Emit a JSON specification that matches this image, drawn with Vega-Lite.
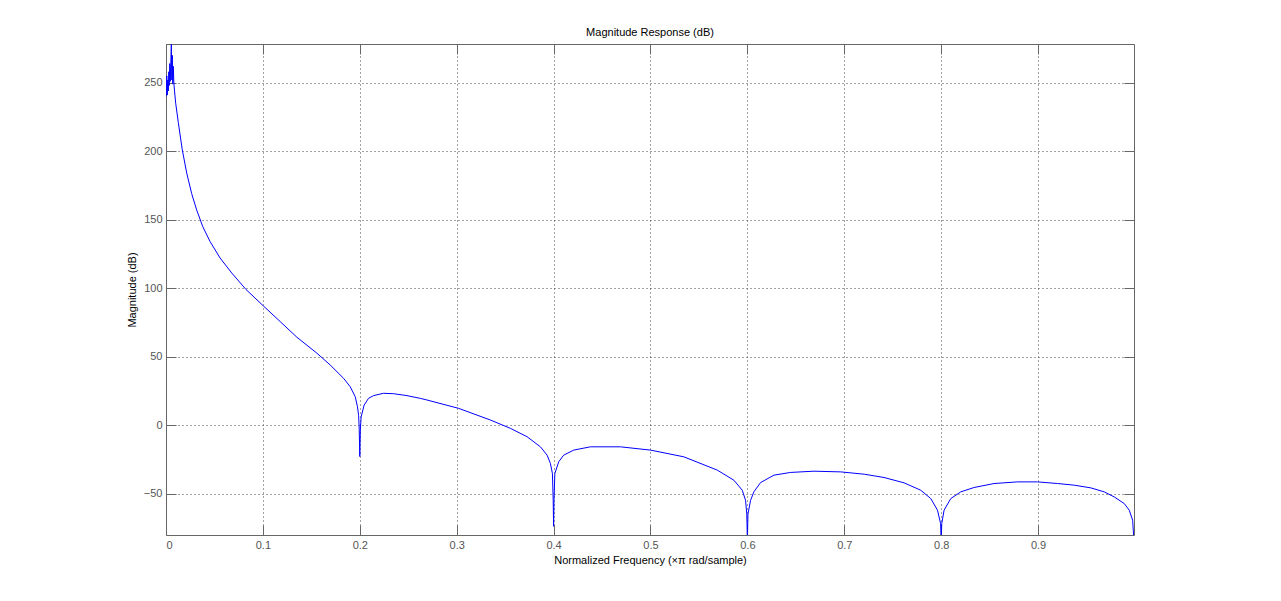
{
  "$schema": "https://vega.github.io/schema/vega-lite/v6.json",
  "width": 968,
  "height": 491,
  "autosize": "none",
  "padding": {"left": 166, "top": 44, "right": 147, "bottom": 66},
  "background": "white",
  "title": {"text": "Magnitude Response (dB)", "fontSize": 11, "font": "Liberation Sans", "fontWeight": "normal", "color": "#000000", "offset": 6},
  "config": {
    "view": {"stroke": null},
    "axis": {
      "labelFont": "Liberation Sans", "labelFontSize": 11, "labelColor": "#555555",
      "titleFont": "Liberation Sans", "titleFontSize": 11, "titleFontWeight": "normal", "titleColor": "#000000",
      "domainColor": "#666666", "tickColor": "#666666", "tickSize": -10, "labelPadding": 14,
      "gridColor": "#444444", "gridDash": [1, 3], "gridOpacity": 1, "gridWidth": 1
    }
  },
  "datasets": {
    "resp": [
      {"f": 0.0003, "m": 240}, {"f": 0.0008, "m": 255}, {"f": 0.0013, "m": 241}, {"f": 0.0018, "m": 252},
      {"f": 0.0024, "m": 244}, {"f": 0.0029, "m": 258}, {"f": 0.0034, "m": 248}, {"f": 0.0039, "m": 264},
      {"f": 0.0044, "m": 251}, {"f": 0.005, "m": 266}, {"f": 0.0055, "m": 278}, {"f": 0.006, "m": 252},
      {"f": 0.0065, "m": 270}, {"f": 0.007, "m": 249}, {"f": 0.0075, "m": 262}, {"f": 0.0081, "m": 250},
      {"f": 0.0088, "m": 244}, {"f": 0.010, "m": 235}, {"f": 0.0127, "m": 221}, {"f": 0.0168, "m": 201},
      {"f": 0.0214, "m": 184}, {"f": 0.0265, "m": 169}, {"f": 0.0317, "m": 157}, {"f": 0.0379, "m": 145},
      {"f": 0.0455, "m": 134}, {"f": 0.0558, "m": 122}, {"f": 0.0679, "m": 111}, {"f": 0.0826, "m": 99},
      {"f": 0.1005, "m": 87}, {"f": 0.1178, "m": 75.6}, {"f": 0.135, "m": 64.2}, {"f": 0.1557, "m": 52.5},
      {"f": 0.1694, "m": 43.9}, {"f": 0.1832, "m": 34.2}, {"f": 0.1901, "m": 28}, {"f": 0.1953, "m": 20.7},
      {"f": 0.1976, "m": 13.4}, {"f": 0.1988, "m": 7}, {"f": 0.1994, "m": -3}, {"f": 0.2, "m": -23},
      {"f": 0.2006, "m": -3}, {"f": 0.2014, "m": 6}, {"f": 0.2045, "m": 14.6}, {"f": 0.209, "m": 19.5},
      {"f": 0.2142, "m": 21.5}, {"f": 0.2245, "m": 23.2}, {"f": 0.2348, "m": 22.9}, {"f": 0.2487, "m": 21.5},
      {"f": 0.2624, "m": 19.5}, {"f": 0.2693, "m": 18.3}, {"f": 0.302, "m": 12.2}, {"f": 0.3347, "m": 3.7},
      {"f": 0.3554, "m": -2.4}, {"f": 0.3726, "m": -8.5}, {"f": 0.3864, "m": -15.9}, {"f": 0.3933, "m": -22},
      {"f": 0.3967, "m": -28}, {"f": 0.3988, "m": -35.4}, {"f": 0.3996, "m": -55}, {"f": 0.4, "m": -74},
      {"f": 0.4004, "m": -55}, {"f": 0.4013, "m": -35.4}, {"f": 0.4053, "m": -26.8}, {"f": 0.4104, "m": -22},
      {"f": 0.4208, "m": -18.3}, {"f": 0.438, "m": -15.9}, {"f": 0.469, "m": -15.9}, {"f": 0.5, "m": -18.3},
      {"f": 0.5344, "m": -23.2}, {"f": 0.5689, "m": -32.9}, {"f": 0.5861, "m": -40.3}, {"f": 0.5947, "m": -47.6},
      {"f": 0.5981, "m": -54.9}, {"f": 0.5994, "m": -65}, {"f": 0.6, "m": -85}, {"f": 0.6006, "m": -65},
      {"f": 0.6033, "m": -55}, {"f": 0.6067, "m": -48.8}, {"f": 0.6136, "m": -42}, {"f": 0.6274, "m": -36.6},
      {"f": 0.6446, "m": -34.6}, {"f": 0.6687, "m": -33.7}, {"f": 0.6963, "m": -34.2}, {"f": 0.7206, "m": -35.9},
      {"f": 0.741, "m": -38.3}, {"f": 0.7617, "m": -42.2}, {"f": 0.7789, "m": -47.6}, {"f": 0.7893, "m": -53.7},
      {"f": 0.7962, "m": -62.2}, {"f": 0.7994, "m": -72}, {"f": 0.8, "m": -85}, {"f": 0.8006, "m": -72},
      {"f": 0.803, "m": -62.2}, {"f": 0.8099, "m": -53.7}, {"f": 0.8202, "m": -48.8}, {"f": 0.834, "m": -45.6},
      {"f": 0.8546, "m": -42.7}, {"f": 0.8788, "m": -41.5}, {"f": 0.8995, "m": -41.5}, {"f": 0.9201, "m": -42.7},
      {"f": 0.9373, "m": -43.9}, {"f": 0.9545, "m": -45.9}, {"f": 0.9683, "m": -48.8}, {"f": 0.9786, "m": -52.5},
      {"f": 0.9889, "m": -57.3}, {"f": 0.9941, "m": -62.2}, {"f": 0.9976, "m": -69.5}, {"f": 0.999, "m": -85}
    ]
  },
  "data": {"name": "resp"},
  "layer": [
    {
      "mark": {"type": "line", "color": "#0000ff", "strokeWidth": 1, "clip": true, "interpolate": "linear"},
      "encoding": {
        "x": {"field": "f", "type": "quantitative", "scale": {"domain": [0, 0.999], "nice": false, "zero": false},
          "axis": {"orient": "bottom", "values": [0, 0.1, 0.2, 0.3, 0.4, 0.5, 0.6, 0.7, 0.8, 0.9], "format": ".1~f", "grid": true,
            "title": "Normalized Frequency (×π rad/sample)", "titlePadding": 4}},
        "y": {"field": "m", "type": "quantitative", "scale": {"domain": [-80.3, 278.3], "nice": false, "zero": false},
          "axis": {"orient": "left", "values": [-50, 0, 50, 100, 150, 200, 250], "grid": true,
            "title": "Magnitude (dB)", "titlePadding": 6}}
      }
    },
    {
      "mark": {"type": "line", "opacity": 0, "clip": true},
      "encoding": {
        "x": {"field": "f", "type": "quantitative",
          "axis": {"orient": "top", "values": [0, 0.1, 0.2, 0.3, 0.4, 0.5, 0.6, 0.7, 0.8, 0.9], "labels": false, "grid": false, "title": null}},
        "y": {"field": "m", "type": "quantitative",
          "axis": {"orient": "right", "values": [-50, 0, 50, 100, 150, 200, 250], "labels": false, "grid": false, "title": null}}
      }
    }
  ],
  "resolve": {"axis": {"x": "independent", "y": "independent"}}
}
